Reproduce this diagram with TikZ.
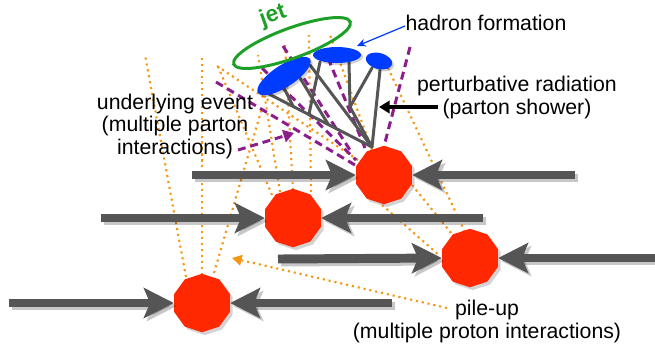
\documentclass[tikz,border=0pt]{standalone}
\usepackage{fontspec}
\setmainfont{Liberation Sans}
\usetikzlibrary{arrows.meta,shapes.geometric,shadows}

\definecolor{beamgray}{RGB}{85,85,85}
\definecolor{protonred}{RGB}{255,40,0}
\definecolor{hadronblue}{RGB}{0,60,255}
\definecolor{jetgreen}{RGB}{30,160,40}
\definecolor{uepurple}{RGB}{140,30,140}
\definecolor{puorange}{RGB}{245,150,20}

\tikzset{
  beam/.style={draw=beamgray, line width=5.1pt,
    -{Stealth[length=17pt,width=17pt,inset=3.5pt]}},
  beamshadow/.style={draw=black, opacity=0.22, line width=5.1pt,
    -{Stealth[length=17pt,width=17pt,inset=3.5pt]}},
  collision/.style={regular polygon, regular polygon sides=10,
    shape border rotate=90, fill=protonred, minimum size=1.17cm,
    inner sep=0pt, drop shadow={shadow xshift=1.6pt, shadow yshift=-1.6pt, opacity=0.35}},
  shower/.style={draw=beamgray, line width=1.7pt, line cap=round},
  hadron/.style={fill=hadronblue},
  uedash/.style={draw=uepurple, line width=1.7pt, dash pattern=on 4.5pt off 2.8pt},
  pudot/.style={draw=puorange, line width=1.2pt, dash pattern=on 1.2pt off 2.2pt},
  label/.style={font=\fontsize{12.1}{12.8}\selectfont, align=center, inner sep=0pt},
}

\newcommand\beamarrow[2]{%
  \draw[beamshadow] ([shift={(3,3)}]#1) -- ([shift={(3,3)}]#2);
  \draw[beam] (#1) -- (#2);}

\begin{document}
\begin{tikzpicture}[x=0.02cm, y=-0.02cm]
\path[use as bounding box] (0,0) rectangle (655,343);

% collision points (drawn as nodes so that the beams can end on them)
\path (384,175) coordinate (p1) (293,218) coordinate (p2)
      (470,258) coordinate (p3) (202,303) coordinate (p4);

% pile-up tracks (orange dotted)
\draw[pudot] (186,277) -- (145,55);
\draw[pudot] (202,275) -- (202,57);
\draw[pudot] (214,273) -- (262,108);
\draw[pudot] (272,195) -- (217,64);
\draw[pudot] (280,192) -- (258,55);
\draw[pudot] (293,190) -- (285,45);
\draw[pudot] (311,192) -- (309,35);
\draw[pudot] (358,160) -- (217,66);
\draw[pudot] (372,150) -- (330,35);
\draw[pudot] (465,232) -- (388,68);
\draw[pudot] (412,185) -- (452,234);
\draw[pudot] (382,205) -- (440,256);

% underlying event tracks (purple dashed)
\draw[uedash] (216,82) -- (360,168);
\draw[uedash] (262,68) -- (356,160);
\draw[uedash] (283,46) -- (350,150);
\draw[uedash] (328,58) -- (365,148);
\draw[uedash] (410,47) -- (383,150);

% parton shower tree
\path (372,147) coordinate (root)
      (350,107) coordinate (b2);
\draw[shower] (root) -- (267,93);
\draw[shower] (284,88) -- (293,106);
\draw[shower] (300,78) -- (328,124);
\draw[shower] (320,62) -- (309,114);
\draw[shower] (310,65) -- (root);
\draw[shower] (349,62) -- (b2) -- (root);
\draw[shower] (372,68) -- (b2);
\draw[shower] (380,70) -- (root);

% hadrons
\fill[black, opacity=0.18, rotate around={33:(286,78)}] (286,78) ellipse [x radius=31, y radius=11];
\fill[hadron, rotate around={33:(284,76)}] (284,76) ellipse [x radius=31, y radius=11];
\fill[black, opacity=0.18] (339,57) ellipse [x radius=24, y radius=8];
\fill[hadron] (337,55) ellipse [x radius=24, y radius=8];
\fill[black, opacity=0.18, rotate around={-15:(381,63)}] (381,63) ellipse [x radius=13.5, y radius=8];
\fill[hadron, rotate around={-15:(379,61)}] (379,61) ellipse [x radius=13.5, y radius=8];

% jet cone
\draw[jetgreen, line width=1.7pt, rotate around={20:(292,43)}] (292,43) ellipse [x radius=62, y radius=15];
\node[text=jetgreen, font=\fontsize{13}{13}\selectfont\bfseries, rotate=20, inner sep=0pt] (jet) at (273,16) {jet};

% colliding protons
\node[collision] (c1) at (p1) {};
\node[collision] (c2) at (p2) {};
\node[collision] (c3) at (p3) {};
\node[collision] (c4) at (p4) {};

\path (192,175) coordinate (l1) (575,175) coordinate (r1)
      (101,218) coordinate (l2) (483,218) coordinate (r2)
      (278,259) coordinate (l3) (660,258) coordinate (r3)
      (9,303)   coordinate (l4) (392,303) coordinate (r4);

\beamarrow{l1}{c1.west}
\beamarrow{r1}{c1.east}
\beamarrow{l2}{c2.west}
\beamarrow{r2}{c2.east}
\beamarrow{l3}{c3.west}
\beamarrow{r3}{c3.east}
\beamarrow{l4}{c4.west}
\beamarrow{r4}{c4.east}

% labels
\node[label] (had) at (486,23) {hadron formation};
\node[label] (pert) at (517,97.5) {perturbative radiation\\(parton shower)};
\node[label] (ue) at (175,126) {underlying event\\(multiple parton\\interactions)};
\node[label] (pu) at (487,321.5) {pile-up\\(multiple proton interactions)};

% label pointers
\path (405,26) coordinate (hadfrom) (357,46) coordinate (hadto)
      (438,107) coordinate (pertfrom) (379,107) coordinate (pertto)
      (238,150) coordinate (uefrom) (294,133) coordinate (ueto)
      (447,308) coordinate (pufrom) (232,258) coordinate (puto);
\draw[hadronblue, line width=0.7pt, -{Stealth[length=5pt,width=4.5pt]}] (hadfrom) -- (hadto);
\draw[black, line width=1.8pt, -{Triangle[length=6pt,width=7pt]}] (pertfrom) -- (pertto);
\draw[uedash, -{Triangle[length=6pt,width=7pt]}] (uefrom) -- (ueto);
\draw[pudot, -{Triangle[length=5.5pt,width=6pt]}] (pufrom) -- (puto);
\end{tikzpicture}
\end{document}
